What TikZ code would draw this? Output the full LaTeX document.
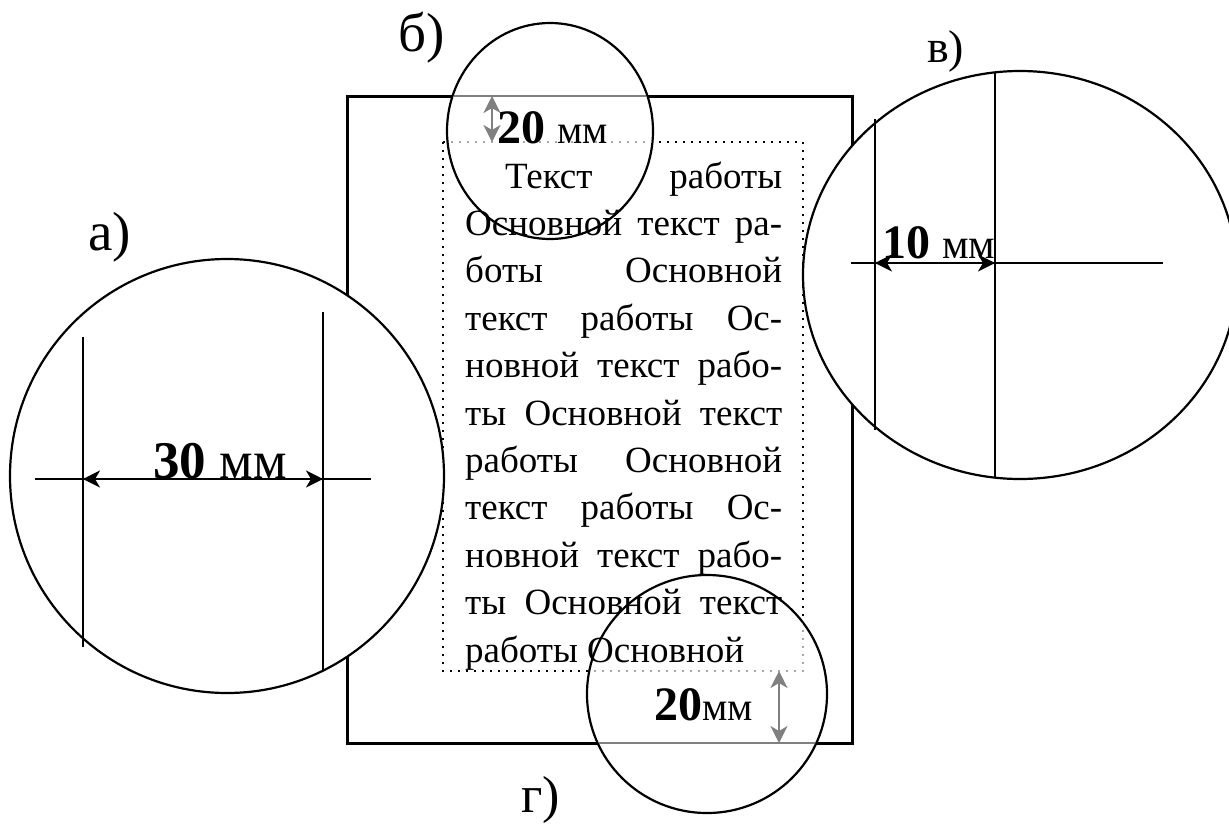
\documentclass[tikz,border=0pt]{standalone}
\usepackage{fontspec}
\setmainfont{Liberation Serif}
\usetikzlibrary{arrows.meta}
\definecolor{zoomgray}{RGB}{128,128,128}

\begin{document}
\begin{tikzpicture}[x=1pt, y=-1pt,
  sheet/.style={draw, line width=3pt},
  field/.style={draw, line width=2pt, dash pattern=on 2pt off 6pt},
  lens/.style={draw, line width=2.2pt, fill=white},
  guide/.style={draw, line width=2.2pt},
  dim/.style={draw, line width=2.4pt,
    {Stealth[length=17pt,width=17pt,inset=5pt]}-{Stealth[length=17pt,width=17pt,inset=5pt]}},
  graydim/.style={dim, draw=zoomgray},
  bodyline/.style={anchor=base west, inner sep=0pt, font=\fontsize{37}{44}\selectfont},
  tag/.style={anchor=base west, inner sep=0pt, font=\fontsize{55}{60}\selectfont},
  size/.style={inner sep=0pt}]
  \useasboundingbox (0,0) rectangle (1229,828);

  % page and text field
  \coordinate (sheetNW) at (347,96);
  \coordinate (sheetSE) at (852,743);
  \coordinate (fieldNW) at (443,142);
  \coordinate (fieldSE) at (803,671);
  \draw[sheet] (sheetNW) rectangle (sheetSE);
  \draw[field] (fieldNW) rectangle (fieldSE);

  % magnifiers
  \draw[lens] (227,476) circle [radius=217];
  \draw[lens] (550,131) ellipse [x radius=103, y radius=108];
  \draw[lens] (1020,275) ellipse [x radius=217, y radius=204];
  \draw[lens] (707,694) ellipse [x radius=120, y radius=119];

  % edges seen through the top and bottom magnifiers
  \begin{scope}
    \clip (550,131) ellipse [x radius=102, y radius=107];
    \draw[sheet, draw=zoomgray, line width=2.4pt] (sheetNW) rectangle (sheetSE);
    \draw[field, draw=zoomgray!70] (fieldNW) rectangle (fieldSE);
  \end{scope}
  \begin{scope}
    \clip (707,694) ellipse [x radius=119, y radius=118];
    \draw[sheet, draw=zoomgray, line width=2.4pt] (sheetNW) rectangle (sheetSE);
    \draw[field, draw=zoomgray!70] (fieldNW) rectangle (fieldSE);
  \end{scope}

  % body text
  \foreach \ln [count=\i] in {
      {\hspace{40pt}Текст\hfill работы},
      {Основной\hfill текст\hfill ра-},
      {боты\hfill Основной},
      {текст\hfill работы\hfill Ос-},
      {новной\hfill текст\hfill рабо-},
      {ты\hfill Основной\hfill текст},
      {работы\hfill Основной},
      {текст\hfill работы\hfill Ос-},
      {новной\hfill текст\hfill рабо-},
      {ты\hfill Основной\hfill текст},
      {работы Основной\hfill}}
    \node[bodyline] (line\i) at (465,{188+47.4*(\i-1)}) {\hbox to 317pt{\ln}};

  % a) left margin
  \draw[guide] (83,337) -- (83,647);
  \draw[guide] (323,312) -- (323,671);
  \draw[guide] (35,479) -- (371,479);
  \coordinate (aL) at (83,479);
  \coordinate (aR) at (323,479);
  \draw[dim] (aL) -- (aR);
  \node[size, anchor=base west] (dimA) at (153,478)
    {\fontsize{53}{60}\selectfont\textbf{30} мм};

  % b) top margin
  \coordinate (bT) at (492,96);
  \coordinate (bB) at (492,142);
  \draw[graydim] (bT) -- (bB);
  \node[size, anchor=base west] (dimB) at (497,143)
    {\fontsize{48}{50}\selectfont\textbf{20} \fontsize{40}{50}\selectfont мм};

  % v) right margin
  \draw[guide] (875,119) -- (875,430);
  \draw[guide] (995,72) -- (995,478);
  \draw[guide] (851,263) -- (1163,263);
  \coordinate (vL) at (875,263);
  \coordinate (vR) at (995,263);
  \draw[dim] (vL) -- (vR);
  \node[size, anchor=base west] (dimV) at (882,258)
    {\fontsize{48}{50}\selectfont\textbf{10} \fontsize{42}{50}\selectfont мм};

  % g) bottom margin
  \coordinate (gT) at (779,671);
  \coordinate (gB) at (779,743);
  \draw[graydim] (gT) -- (gB);
  \node[size, anchor=base east] (dimG) at (753,720)
    {\fontsize{48}{50}\selectfont\textbf{20}\fontsize{40}{50}\selectfont мм};

  % captions
  \node[tag] (tagA) at (88,250) {а)};
  \node[tag] (tagB) at (398,51) {б)};
  \node[tag, font=\fontsize{46}{50}\selectfont] (tagV) at (927,62) {в)};
  \node[tag, font=\fontsize{52}{60}\selectfont] (tagG) at (521,812) {г)};
\end{tikzpicture}
\end{document}
